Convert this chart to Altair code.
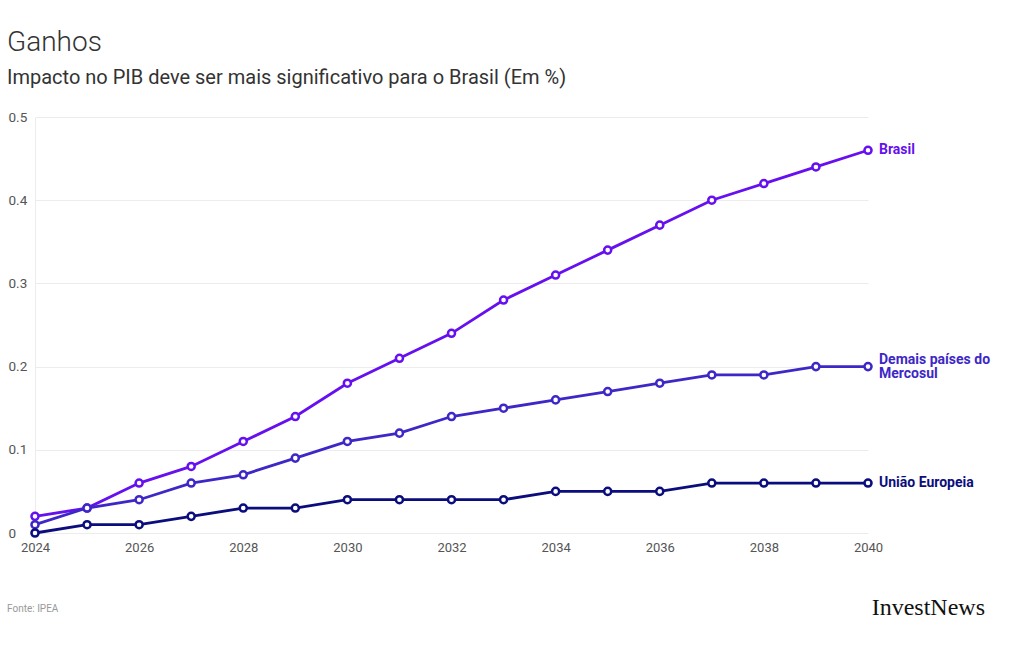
import altair as alt
import pandas as pd

years = list(range(2024, 2041))
brasil = [0.02, 0.03, 0.06, 0.08, 0.11, 0.14, 0.18, 0.21, 0.24, 0.28, 0.31, 0.34, 0.37, 0.40, 0.42, 0.44, 0.46]
mercosul = [0.01, 0.03, 0.04, 0.06, 0.07, 0.09, 0.11, 0.12, 0.14, 0.15, 0.16, 0.17, 0.18, 0.19, 0.19, 0.20, 0.20]
ue = [0.0, 0.01, 0.01, 0.02, 0.03, 0.03, 0.04, 0.04, 0.04, 0.04, 0.05, 0.05, 0.05, 0.06, 0.06, 0.06, 0.06]

series_names = ["Brasil", "Demais países do Mercosul", "União Europeia"]
series_labels = [["Brasil"], ["Demais países do", "Mercosul"], ["União Europeia"]]
series_values = [brasil, mercosul, ue]
colors = ["#6610f0", "#3d27c6", "#0b0d7c"]

FONT = "Roboto"

x_scale = alt.Scale(domain=[2024, 2040], nice=False, zero=False)
y_scale = alt.Scale(domain=[0, 0.5], nice=False)

x_axis = alt.Axis(
    values=list(range(2024, 2041, 2)), format="d", title=None, grid=False,
    domain=False, ticks=False, labelPadding=8, labelFontSize=13,
    labelColor="#555555", labelFont=FONT, labelFlush=False,
)
y_axis = alt.Axis(
    values=[0, 0.1, 0.2, 0.3, 0.4, 0.5], title=None, grid=True, gridColor="#ececec",
    domain=True, domainColor="#ececec", ticks=False, labelAlign="left", labelPadding=27,
    labelFontSize=13.5, labelColor="#555555", labelFont=FONT, labelBaseline="middle",
    labelFlush=False, format="~g",
)

layers = []
for i, (name, vals, col) in enumerate(zip(series_names, series_values, colors)):
    df = pd.DataFrame({"ano": years, "valor": vals, "serie": name})
    base = alt.Chart(df)
    enc = dict(x=alt.X("ano:Q", scale=x_scale, axis=x_axis),
               y=alt.Y("valor:Q", scale=y_scale, axis=y_axis))
    line = base.mark_line(color=col, strokeWidth=2.8).encode(**enc)
    pts = base.mark_point(
        shape="circle", filled=True, fill="white", stroke=col, strokeWidth=2.5,
        size=50, opacity=1,
    ).encode(**enc)
    lab_df = pd.DataFrame({"ano": [years[-1]], "valor": [vals[-1]], "label": [series_labels[i]]})
    lab = alt.Chart(lab_df).mark_text(
        align="left", baseline="middle", dx=11, dy=(-7 if len(series_labels[i]) > 1 else 0),
        fontSize=14, fontWeight="bold", font=FONT, color=col, lineHeight=14,
    ).encode(text="label", **enc)
    layers += [line, pts, lab]

title = alt.Chart(pd.DataFrame({"t": ["Ganhos"]})).mark_text(
    align="left", baseline="middle", fontSize=28, font=FONT, fontWeight=300, color="#333333"
).encode(x=alt.value(-28), y=alt.value(-74), text="t")
subtitle = alt.Chart(pd.DataFrame({"t": ["Impacto no PIB deve ser mais significativo para o Brasil (Em %)"]})).mark_text(
    align="left", baseline="middle", fontSize=20, font=FONT, color="#333333"
).encode(x=alt.value(-28), y=alt.value(-39), text="t")
fonte = alt.Chart(pd.DataFrame({"t": ["Fonte: IPEA"]})).mark_text(
    align="left", baseline="middle", fontSize=10, font=FONT, color="#999999"
).encode(x=alt.value(-28), y=alt.value(492), text="t")
logo = alt.Chart(pd.DataFrame({"t": ["InvestNews"]})).mark_text(
    align="right", baseline="middle", fontSize=24, font="Liberation Serif", color="#111111"
).encode(x=alt.value(950), y=alt.value(491), text="t")

chart = alt.layer(*layers, title, subtitle, fonte, logo).properties(
    width=833, height=416,
    autosize=alt.AutoSizeParams(type="none"),
    padding={"left": 35, "top": 117, "right": 152, "bottom": 113},
    background="white",
).configure_view(stroke=None)

chart.save("out.html", embed_options={"renderer": "svg", "actions": False})
